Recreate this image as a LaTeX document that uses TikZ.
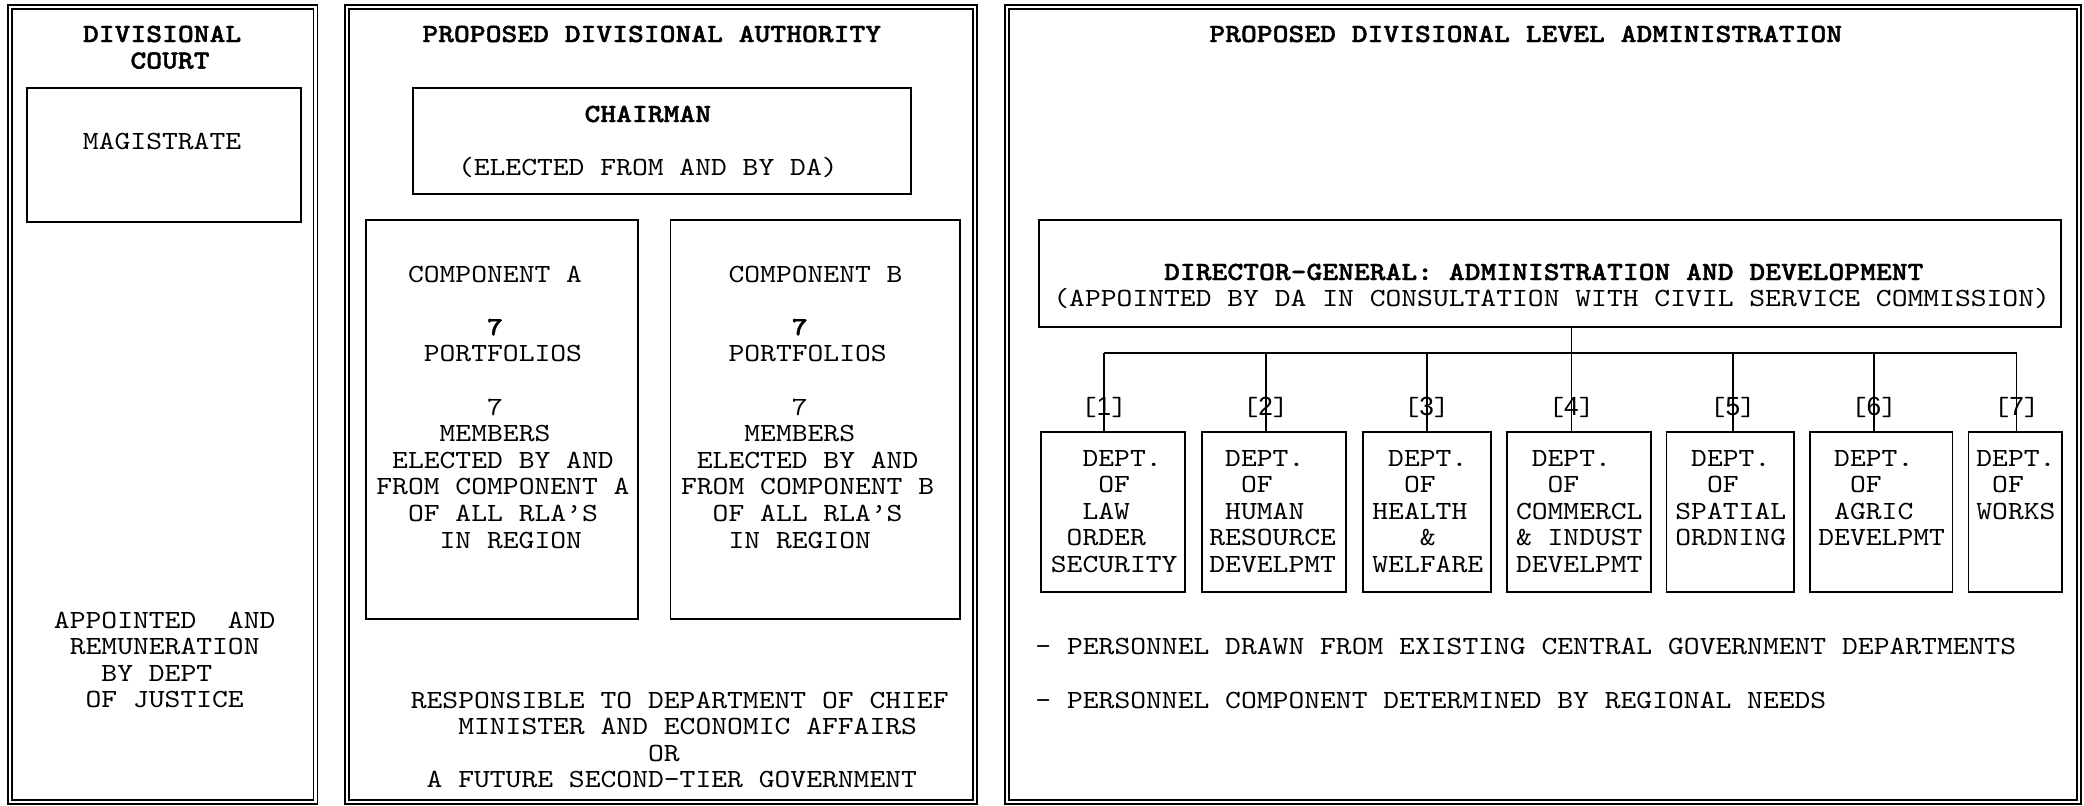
\documentclass[tikz,border=0pt]{standalone}
\usepackage{fontspec}
\setmainfont{lmmono10-regular.otf}[FakeStretch=1.15, BoldFont=lmmonolt10-bold.otf, BoldFeatures={FakeBold=1.5}]
\newfontfamily\tagsans{Liberation Sans}
\usetikzlibrary{fit}
% one blank typewriter cell per unit
\newcommand\pad[1]{\hspace*{#1\fontcharwd\font`M\relax}}
\tikzset{
  frame/.style={draw, line width=0.7pt, double, double distance=1.3pt, inner sep=0pt},
  box/.style={draw, line width=0.85pt, inner sep=0pt},
  % a typed block is placed by the baseline of its last line
  typed/.style={anchor=base west, align=left, inner sep=0pt},
  wire/.style={line width=0.85pt},
  tag/.style={anchor=base, inner sep=0pt},
}
\begin{document}
\fontsize{13.1pt}{13.3pt}\selectfont
\begin{tikzpicture}[x=0.5pt, y=-0.5pt]
\useasboundingbox (0,0) rectangle (2084,805);

% three column frames
\node[frame, fit={(10,7) (315.5,802)}] (courtframe) {};
\node[frame, fit={(347,7) (975,802)}] (authframe) {};
\node[frame, fit={(1007,7) (2079,802)}] (adminframe) {};

% divisional court
\node[typed, font=\bfseries] (courttitle) at (82.6,68.6) {DIVISIONAL\\\pad{3}COURT};
\node[box, fit={(27,88) (301,222)}] (magbox) {};
\node[typed] (magtext) at (82.6,149) {MAGISTRATE};
\node[typed] (courtnote) at (53.6,707.8)
  {APPOINTED~~AND\\\pad{1}REMUNERATION\\\pad{3}BY DEPT\\\pad{2}OF JUSTICE};

% divisional authority
\node[typed, font=\bfseries] (authtitle) at (422,42) {PROPOSED DIVISIONAL AUTHORITY};
\node[box, fit={(413,88) (911,194)}] (chairbox) {};
\node[typed] (chairtext) at (457.6,175.2)
  {\pad{8}\textbf{CHAIRMAN}\\~\\(ELECTED FROM AND BY DA)};
\node[box, fit={(366,220) (638,619)}] (compA) {};
\node[typed] (compAtext) at (376,548)
  {\pad{2}COMPONENT A\\~\\\pad{7}\textbf{7}\\\pad{3}PORTFOLIOS\\~\\\pad{7}7\\
   \pad{4}MEMBERS\\\pad{1}ELECTED BY AND\\FROM COMPONENT A\\\pad{2}OF ALL RLA’S\\
   \pad{4}IN REGION};
\node[box, fit={(670.5,220) (960,619)}] (compB) {};
\node[typed] (compBtext) at (680.7,548)
  {\pad{3}COMPONENT B\\~\\\pad{7}\textbf{7}\\\pad{3}PORTFOLIOS\\~\\\pad{7}7\\
   \pad{4}MEMBERS\\\pad{1}ELECTED BY AND\\FROM COMPONENT B\\\pad{2}OF ALL RLA’S\\
   \pad{3}IN REGION};
\node[typed] (authnote) at (410.4,787.8)
  {RESPONSIBLE TO DEPARTMENT OF CHIEF\\\pad{3}MINISTER AND ECONOMIC AFFAIRS\\
   \pad{15}OR\\\pad{1}A FUTURE SECOND-TIER GOVERNMENT};

% divisional level administration
\node[typed, font=\bfseries] (admintitle) at (1209,42) {PROPOSED DIVISIONAL LEVEL ADMINISTRATION};
\node[box, fit={(1039,220) (2061,327)}] (dg) {};
\node[typed] (dgtext) at (1053,306.6)
  {\pad{7}\textbf{DIRECTOR-GENERAL: ADMINISTRATION AND DEVELOPMENT}\\
   (APPOINTED BY DA IN CONSULTATION WITH CIVIL SERVICE COMMISSION)};

% departments
\node[box, fit={(1041,432) (1185,592)}] (d1) {};
\node[box, fit={(1202,432) (1346,592)}] (d2) {};
\node[box, fit={(1363,432) (1491,592)}] (d3) {};
\node[box, fit={(1507,432) (1651,592)}] (d4) {};
\node[box, fit={(1666.5,432) (1794,592)}] (d5) {};
\node[box, fit={(1810,432) (1952.5,592)}] (d6) {};
\node[box, fit={(1968.5,432) (2062,592)}] (d7) {};

\node[typed] (t1) at (1050.5,572.4) {\pad{2}DEPT.\\\pad{3}OF\\\pad{2}LAW\\\pad{1}ORDER\\SECURITY};
\node[typed] (t2) at (1209,572.4) {\pad{1}DEPT.\\\pad{2}OF\\\pad{1}HUMAN\\RESOURCE\\DEVELPMT};
\node[typed] (t3) at (1372,572.4) {\pad{1}DEPT.\\\pad{2}OF\\HEALTH\\\pad{3}\&\\WELFARE};
\node[typed] (t4) at (1515.6,572.4) {\pad{1}DEPT.\\\pad{2}OF\\COMMERCL\\\&~INDUST\\DEVELPMT};
\node[typed] (t5) at (1675,545.8) {\pad{1}DEPT.\\\pad{2}OF\\SPATIAL\\ORDNING};
\node[typed] (t6) at (1818,545.8) {\pad{1}DEPT.\\\pad{2}OF\\\pad{1}AGRIC\\DEVELPMT};
\node[typed] (t7) at (1976,519.2) {DEPT.\\\pad{1}OF\\WORKS};

% branch line from the director-general to the departments
\coordinate (b1) at (1104,353);
\coordinate (b2) at (1265.7,353);
\coordinate (b3) at (1426.7,353);
\coordinate (b4) at (1571.5,353);
\coordinate (b5) at (1732.8,353);
\coordinate (b6) at (1874,353);
\coordinate (b7) at (2016.6,353);
\draw[wire] (b1) -- (b7);
\draw[wire] (dg.south -| b4) -- (b4);
\foreach \i in {1,...,7}{
  \draw[wire] (b\i) -- (b\i |- d\i.north);
  \node[tag] (lab\i) at ([yshift=-31pt]b\i) {[{\tagsans\i}]};
}

\node[typed] (note1) at (1035,654) {- PERSONNEL DRAWN FROM EXISTING CENTRAL GOVERNMENT DEPARTMENTS};
\node[typed] (note2) at (1035,708) {- PERSONNEL COMPONENT DETERMINED BY REGIONAL NEEDS};
\end{tikzpicture}
\end{document}
